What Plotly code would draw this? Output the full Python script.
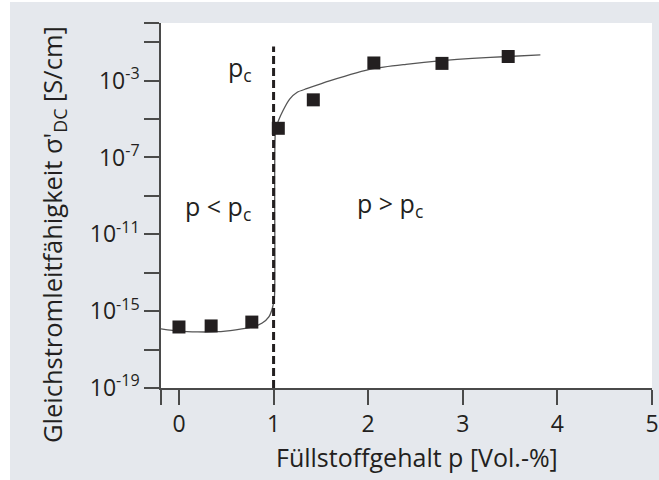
import plotly.graph_objects as go

# ---- data ----
p_meas = [0.0, 0.34, 0.77, 1.05, 1.42, 2.06, 2.78, 3.48]
sigma_meas = [1.5e-16, 1.7e-16, 2.7e-16, 3.3e-6, 1.0e-4, 8.3e-3, 7.9e-3, 1.8e-2]

p_fit = [-0.19, 0.0, 0.2, 0.4, 0.6, 0.78, 0.88, 0.95, 0.99, 1.01,
         1.02, 1.05, 1.1, 1.17, 1.25, 1.35, 1.6, 2.05, 2.4, 2.78, 3.1, 3.48, 3.82]
sigma_fit = [1.2e-16, 9.1e-17, 8.3e-17, 8.5e-17, 1.07e-16, 1.5e-16, 2.4e-16, 5.0e-16, 1.6e-15, 6.3e-15,
             2.5e-6, 7.9e-6, 2.8e-5, 1.1e-4, 2.5e-4, 3.8e-4, 1.0e-3, 4.2e-3, 7.1e-3, 1.1e-2, 1.45e-2, 1.8e-2, 2.2e-2]

p_c = [1.0, 1.0]
p_c_sigma = [1e-19, 5.9e-2]

x_tickvals = [-0.19, 0, 1, 2, 3, 4, 5]
x_ticktext = ["", "0", "1", "2", "3", "4", "5"]
y_tickvals = [1e-19, 1e-17, 1e-15, 1e-13, 1e-11, 1e-9, 1e-7, 1e-5, 1e-3, 1e-1, 1e0]
y_ticktext = ["10<sup>-19</sup>", "", "10<sup>-15</sup>", "", "10<sup>-11</sup>", "",
              "10<sup>-7</sup>", "", "10<sup>-3</sup>", "", ""]

x_title = "Füllstoffgehalt p [Vol.-%]"
y_title = "Gleichstromleitfähigkeit σ'<sub>DC</sub> [S/cm]"

TXT = "#231f20"
AX = "#4a4a4a"
BG = "#e5e8ed"
FONT = "Open Sans"

fig = go.Figure()
fig.add_trace(go.Scatter(x=p_fit, y=sigma_fit, mode="lines",
                         line=dict(color="#555555", width=1.3, shape="spline", smoothing=0.6),
                         hoverinfo="skip"))
fig.add_trace(go.Scatter(x=p_c, y=p_c_sigma, mode="lines",
                         line=dict(color=TXT, width=3, dash="8px,4px")))
fig.add_trace(go.Scatter(x=p_meas, y=sigma_meas, mode="markers",
                         marker=dict(symbol="square", size=13, color=TXT)))

W, H = 659, 480
L, R, T, B = 161, 7, 23, 92
pw, ph = W - L - R, H - T - B

fig.update_layout(
    width=W, height=H,
    margin=dict(l=L, r=R, t=T, b=B, autoexpand=False),
    paper_bgcolor=BG, plot_bgcolor="white",
    showlegend=False,
    font=dict(family=FONT, color=TXT, size=24),
    xaxis=dict(range=[-0.19, 5.0], tickvals=x_tickvals, ticktext=x_ticktext,
               ticks="outside", ticklen=15, tickwidth=1.5, tickcolor=AX,
               showline=True, linecolor=AX, linewidth=1.5,
               showgrid=False, zeroline=False,
               tickfont=dict(size=23, family=FONT, color=TXT)),
    yaxis=dict(type="log", range=[-19, 0], tickvals=y_tickvals, ticktext=y_ticktext,
               ticks="outside", ticklen=15, tickwidth=1.5, tickcolor=AX,
               showline=True, linecolor=AX, linewidth=1.5,
               showgrid=False, zeroline=False,
               tickfont=dict(size=23, family=FONT, color=TXT)),
    annotations=[
        dict(x=(417 - L) / pw, y=(ph - (457 - T)) / ph, xref="paper", yref="paper",
             text=x_title, showarrow=False, xanchor="center", yanchor="middle",
             font=dict(size=25, family=FONT, color=TXT)),
        dict(x=(53 - L) / pw, y=(ph - (235 - T)) / ph, xref="paper", yref="paper",
             text=y_title, showarrow=False, textangle=-90, xanchor="center", yanchor="middle",
             font=dict(size=25.5, family=FONT, color=TXT)),
        dict(x=0.65, y=-2.35, xref="x", yref="y", text="p<sub>c</sub>", showarrow=False,
             font=dict(size=25, family=FONT, color=TXT)),
        dict(x=0.415, y=-9.6, xref="x", yref="y", text="p &lt; p<sub>c</sub>", showarrow=False,
             font=dict(size=25, family=FONT, color=TXT)),
        dict(x=2.23, y=-9.45, xref="x", yref="y", text="p &gt; p<sub>c</sub>", showarrow=False,
             font=dict(size=25, family=FONT, color=TXT)),
    ],
    shapes=[
        dict(type="rect", xref="paper", yref="paper", layer="below",
             x0=-L / pw, x1=(10 - L) / pw, y0=-B / ph, y1=(ph + T) / ph,
             fillcolor="white", line=dict(width=0)),
        dict(type="rect", xref="paper", yref="paper", layer="below",
             x0=-L / pw, x1=(pw + R) / pw, y0=(ph + T - 2) / ph, y1=(ph + T) / ph,
             fillcolor="white", line=dict(width=0)),
    ],
)

fig.write_html("out.html", config={"displayModeBar": False},
               post_script="document.body.style.margin='0';document.body.style.overflow='hidden';")
